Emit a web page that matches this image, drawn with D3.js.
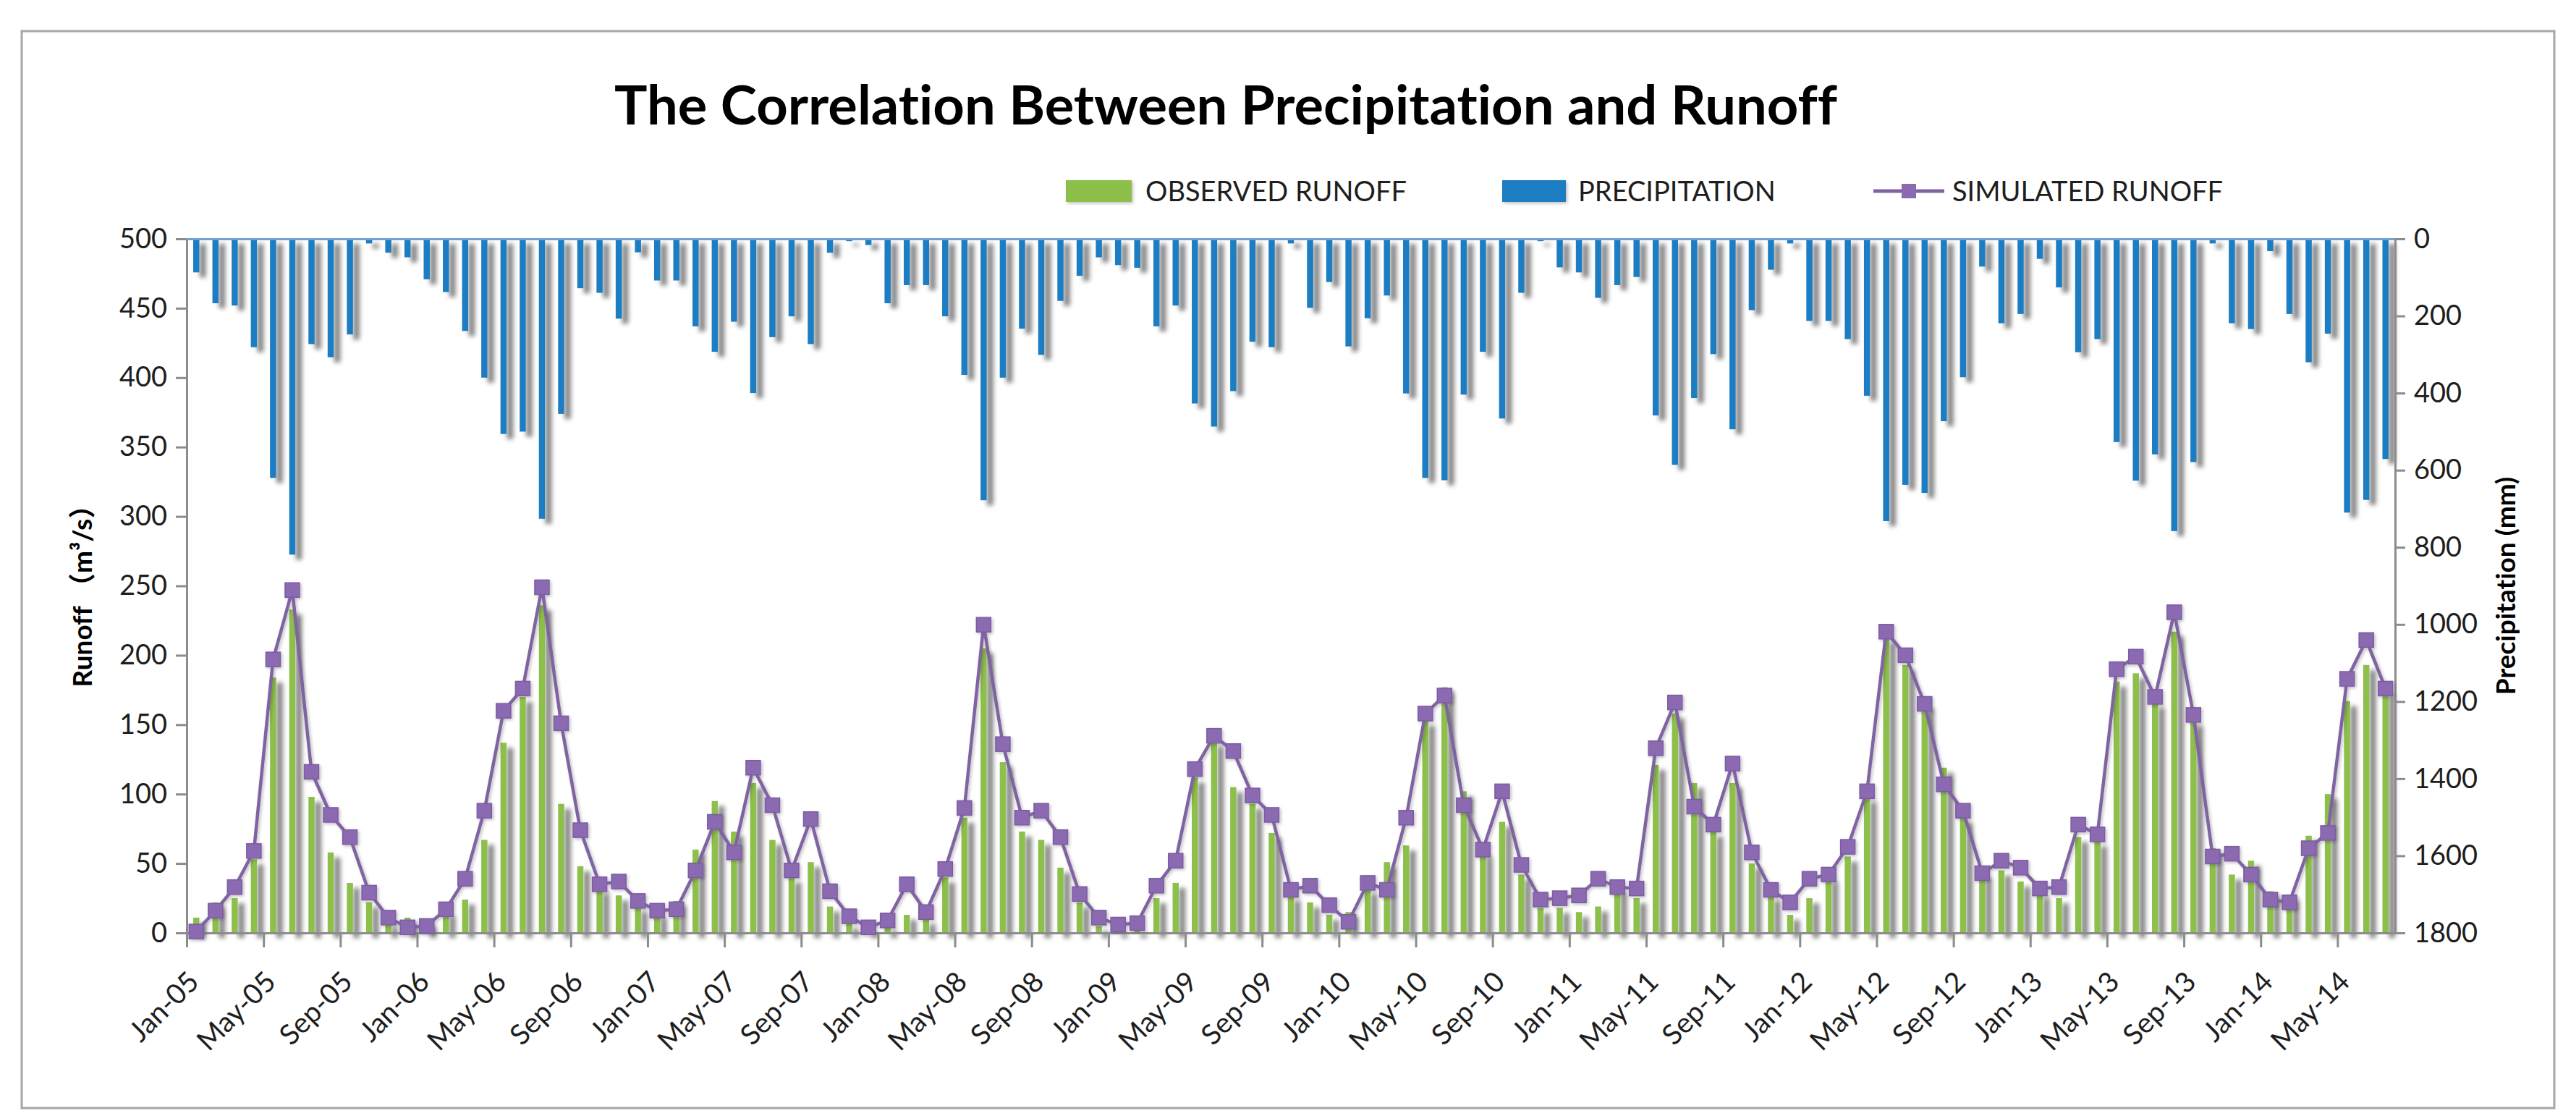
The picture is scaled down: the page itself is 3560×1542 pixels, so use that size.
<!DOCTYPE html>
<html>
<head>
<meta charset="utf-8">
<script src="https://cdn.jsdelivr.net/npm/d3@7"></script>
<style>
  html, body { margin: 0; padding: 0; background: #ffffff; }
  svg { display: block; }
  text { font-variant-ligatures: none; }
</style>
</head>
<body>
<svg id="chart" width="3560" height="1542"></svg>
<script>
// ---------------- DATA ----------------
const categories = [
  "Jan-05","Feb-05","Mar-05","Apr-05","May-05","Jun-05","Jul-05","Aug-05","Sep-05","Oct-05","Nov-05","Dec-05",
  "Jan-06","Feb-06","Mar-06","Apr-06","May-06","Jun-06","Jul-06","Aug-06","Sep-06","Oct-06","Nov-06","Dec-06",
  "Jan-07","Feb-07","Mar-07","Apr-07","May-07","Jun-07","Jul-07","Aug-07","Sep-07","Oct-07","Nov-07","Dec-07",
  "Jan-08","Feb-08","Mar-08","Apr-08","May-08","Jun-08","Jul-08","Aug-08","Sep-08","Oct-08","Nov-08","Dec-08",
  "Jan-09","Feb-09","Mar-09","Apr-09","May-09","Jun-09","Jul-09","Aug-09","Sep-09","Oct-09","Nov-09","Dec-09",
  "Jan-10","Feb-10","Mar-10","Apr-10","May-10","Jun-10","Jul-10","Aug-10","Sep-10","Oct-10","Nov-10","Dec-10",
  "Jan-11","Feb-11","Mar-11","Apr-11","May-11","Jun-11","Jul-11","Aug-11","Sep-11","Oct-11","Nov-11","Dec-11",
  "Jan-12","Feb-12","Mar-12","Apr-12","May-12","Jun-12","Jul-12","Aug-12","Sep-12","Oct-12","Nov-12","Dec-12",
  "Jan-13","Feb-13","Mar-13","Apr-13","May-13","Jun-13","Jul-13","Aug-13","Sep-13","Oct-13","Nov-13","Dec-13",
  "Jan-14","Feb-14","Mar-14","Apr-14","May-14","Jun-14","Jul-14"
];

const tickLabels = [
  "Jan-05","May-05","Sep-05","Jan-06","May-06","Sep-06","Jan-07","May-07","Sep-07","Jan-08",
  "May-08","Sep-08","Jan-09","May-09","Sep-09","Jan-10","May-10","Sep-10","Jan-11","May-11",
  "Sep-11","Jan-12","May-12","Sep-12","Jan-13","May-13","Sep-13","Jan-14","May-14"
];

// Precipitation (mm), secondary axis (reversed)
const precipitation = [
  87,167,173,281,620,819,273,307,248,12,36,48,
  105,138,239,360,506,500,726,454,128,140,207,35,
  108,108,227,293,215,400,255,201,273,36,6,16,
  167,120,120,201,353,678,360,233,301,161,96,48,
  68,75,227,173,427,487,395,267,281,12,179,112,
  279,206,147,401,620,626,404,293,466,140,6,74,
  87,153,120,99,458,586,413,299,494,185,80,12,
  213,213,260,407,732,638,659,473,359,72,219,195,
  52,126,294,260,527,627,559,758,579,12,219,234,
  32,195,320,246,710,677,571
];

// Observed runoff (m3/s)
const observedRunoff = [
  11,22,25,53,184,233,98,58,36,22,8,11,
  8,15,24,67,137,170,236,93,48,32,27,19,
  14,23,60,95,73,108,67,40,51,19,7,3,
  5,13,10,40,83,205,123,73,67,47,22,5,
  3,3,25,36,112,138,105,93,72,27,22,13,
  15,32,51,63,153,177,102,58,80,42,18,18,
  15,19,32,25,121,158,108,73,108,50,27,13,
  25,40,55,98,213,193,165,119,83,43,45,37,
  29,25,69,66,181,187,166,217,153,61,42,52,
  30,27,70,100,167,193,175
];

// Simulated runoff (m3/s)
const simulatedRunoff = [
  1,16,33,59,197,247,116,85,69,29,11,4,
  5,17,39,88,160,176,249,151,74,35,37,23,
  16,17,45,80,58,119,92,45,82,30,12,4,
  9,35,15,46,90,222,136,83,88,69,28,11,
  6,7,34,52,118,142,131,99,85,31,34,20,
  8,36,31,83,158,171,92,60,102,49,24,25,
  27,39,33,32,133,166,91,78,122,58,31,22,
  39,42,62,102,217,200,165,107,88,43,52,47,
  32,33,78,71,190,199,170,231,157,55,57,42,
  24,22,61,72,183,211,176
];

const runoffTicks = [0,50,100,150,200,250,300,350,400,450,500];
const precipTicks = [0,200,400,600,800,1000,1200,1400,1600,1800];

const titleText = "The Correlation Between Precipitation and Runoff";
const legendItems = ["OBSERVED RUNOFF", "PRECIPITATION", "SIMULATED RUNOFF"];

// ---------------- LAYOUT / STYLE ----------------
const W = 3560, H = 1542;
const plot = { left: 258, right: 3310, top: 330, bottom: 1289 };
const FONT = "Lato, 'Open Sans', 'DejaVu Sans', sans-serif";
const COL = {
  green: "#8DBF4C",
  blue: "#1C7DC3",
  purple: "#8064A2",
  marker: "#8B6AB2",
  axis: "#8C8C8C",
  text: "#1E1E1E"
};

const svg = d3.select("#chart");

// Shadow filter (Excel-like outer shadow)
const defs = svg.append("defs");
const f = defs.append("filter").attr("id", "shadow")
  .attr("filterUnits", "userSpaceOnUse")
  .attr("x", 0).attr("y", 0).attr("width", W).attr("height", H);
f.append("feGaussianBlur").attr("in", "SourceAlpha").attr("stdDeviation", 3.4).attr("result", "b");
f.append("feOffset").attr("in", "b").attr("dx", 9).attr("dy", 7).attr("result", "o");
f.append("feComponentTransfer").attr("in", "o").attr("result", "s")
  .append("feFuncA").attr("type", "linear").attr("slope", 0.5);
const fm = f.append("feMerge");
fm.append("feMergeNode").attr("in", "s");
fm.append("feMergeNode").attr("in", "SourceGraphic");

const f2 = defs.append("filter").attr("id", "softshadow")
  .attr("x", "-20%").attr("y", "-40%").attr("width", "140%").attr("height", "180%");
f2.append("feGaussianBlur").attr("in", "SourceAlpha").attr("stdDeviation", 2).attr("result", "b");
f2.append("feOffset").attr("in", "b").attr("dx", 2).attr("dy", 2).attr("result", "o");
f2.append("feComponentTransfer").attr("in", "o").attr("result", "s")
  .append("feFuncA").attr("type", "linear").attr("slope", 0.25);
const fm2 = f2.append("feMerge");
fm2.append("feMergeNode").attr("in", "s");
fm2.append("feMergeNode").attr("in", "SourceGraphic");

// Chart frame
svg.append("rect")
  .attr("x", 30).attr("y", 43).attr("width", 3500).attr("height", 1488)
  .attr("fill", "#ffffff").attr("stroke", "#A6A6A6").attr("stroke-width", 3);

// ---------------- SCALES ----------------
const x = d3.scaleBand().domain(categories).range([plot.left, plot.right]).padding(0);
const xIndex = d3.scaleLinear().domain([0, categories.length]).range([plot.left, plot.right]);
const yL = d3.scaleLinear().domain([0, 500]).range([plot.bottom, plot.top]);
const yR = d3.scaleLinear().domain([0, 1800]).range([plot.top, plot.bottom]);
const barW = 8.5;
const cx = c => x(c) + x.bandwidth() / 2;

// ---------------- BARS ----------------
const gGreen = svg.append("g").attr("filter", "url(#shadow)");
gGreen.selectAll("rect").data(categories).join("rect")
  .attr("x", c => cx(c) - barW / 2)
  .attr("width", barW)
  .attr("y", (c, i) => yL(observedRunoff[i]))
  .attr("height", (c, i) => yL(0) - yL(observedRunoff[i]))
  .attr("fill", COL.green);

const gBlue = svg.append("g").attr("filter", "url(#shadow)");
gBlue.selectAll("rect").data(categories).join("rect")
  .attr("x", c => cx(c) - barW / 2)
  .attr("width", barW)
  .attr("y", yR(0))
  .attr("height", (c, i) => yR(precipitation[i]) - yR(0))
  .attr("fill", COL.blue);

// ---------------- AXES ----------------
function styleAxis(g) {
  g.selectAll(".domain").attr("stroke", COL.axis).attr("stroke-width", 3);
  g.selectAll(".tick line").attr("stroke", COL.axis).attr("stroke-width", 3);
  g.selectAll(".tick text").attr("font-family", FONT).attr("font-size", 38).attr("fill", COL.text);
}

// top line (secondary category axis at top)
svg.append("g")
  .attr("transform", `translate(0,${plot.top})`)
  .call(d3.axisTop(xIndex).tickValues([]).tickSizeOuter(0))
  .call(g => g.select(".domain").attr("stroke", "#6FA3D2").attr("stroke-width", 3));

// left axis
svg.append("g")
  .attr("transform", `translate(${plot.left},0)`)
  .call(d3.axisLeft(yL).tickValues(runoffTicks).tickSize(15).tickSizeOuter(0).tickPadding(12).tickFormat(d3.format("d")))
  .call(styleAxis);

// right axis
svg.append("g")
  .attr("transform", `translate(${plot.right},0)`)
  .call(d3.axisRight(yR).tickValues(precipTicks).tickSize(14).tickSizeOuter(0).tickPadding(12).tickFormat(d3.format("d")))
  .call(styleAxis);

// bottom axis (ticks between categories, every 4 months)
const tickIdx = tickLabels.map(t => categories.indexOf(t));
svg.append("g")
  .attr("transform", `translate(0,${plot.bottom})`)
  .call(d3.axisBottom(xIndex).tickValues(tickIdx).tickSize(20).tickSizeOuter(0).tickFormat(""))
  .call(styleAxis);

svg.append("g").selectAll("text").data(tickLabels).join("text")
  .attr("transform", t => `translate(${cx(t) + 6},${plot.bottom + 70}) rotate(-45)`)
  .attr("text-anchor", "end")
  .attr("font-family", FONT).attr("font-size", 39).attr("fill", COL.text)
  .text(t => t);

// ---------------- SIMULATED LINE ----------------
const line = d3.line()
  .x((d, i) => cx(categories[i]))
  .y(d => yL(d));

const gLine = svg.append("g").attr("filter", "url(#softshadow)");
gLine.append("path")
  .datum(simulatedRunoff)
  .attr("d", line)
  .attr("fill", "none")
  .attr("stroke", COL.purple)
  .attr("stroke-width", 4.5)
  .attr("stroke-linejoin", "round");

const mS = 20;
gLine.selectAll("rect.m").data(simulatedRunoff).join("rect")
  .attr("class", "m")
  .attr("x", (d, i) => cx(categories[i]) - mS / 2)
  .attr("y", d => yL(d) - mS / 2)
  .attr("width", mS).attr("height", mS)
  .attr("fill", COL.marker)
  .attr("stroke", "#7B5CA3").attr("stroke-width", 1.5);

// ---------------- TITLES ----------------
svg.append("text")
  .attr("x", 849).attr("y", 172)
  .attr("font-family", FONT).attr("font-weight", 700).attr("font-size", 74)
  .attr("fill", "#000000")
  .attr("textLength", 1690).attr("lengthAdjust", "spacingAndGlyphs")
  .text(titleText);

svg.append("text")
  .attr("transform", `translate(127,${(plot.top + plot.bottom) / 2 + 5}) rotate(-90)`)
  .attr("text-anchor", "middle")
  .attr("font-family", FONT + ", 'Noto Sans CJK SC'").attr("font-weight", 700).attr("font-size", 37)
  .attr("fill", "#000000")
  .text("Runoff （m³/s）");

svg.append("text")
  .attr("transform", `translate(3476,${(plot.top + plot.bottom) / 2}) rotate(-90)`)
  .attr("text-anchor", "middle")
  .attr("font-family", FONT).attr("font-weight", 700).attr("font-size", 37)
  .attr("fill", "#000000")
  .text("Precipitation (mm)");

// ---------------- LEGEND ----------------
const lg = svg.append("g");
const legendY = 264;
const keyX = [1473, 2076, 2589];
const textX = [1583, 2181, 2698];
lg.append("rect").attr("x", keyX[0]).attr("y", legendY - 15).attr("width", 91).attr("height", 30)
  .attr("fill", COL.green).attr("filter", "url(#softshadow)");
lg.append("rect").attr("x", keyX[1]).attr("y", legendY - 15).attr("width", 88).attr("height", 30)
  .attr("fill", COL.blue).attr("filter", "url(#softshadow)");
lg.append("line").attr("x1", keyX[2]).attr("x2", keyX[2] + 98).attr("y1", legendY).attr("y2", legendY)
  .attr("stroke", COL.purple).attr("stroke-width", 5);
lg.append("rect").attr("x", keyX[2] + 49 - mS / 2).attr("y", legendY - mS / 2)
  .attr("width", mS).attr("height", mS).attr("fill", COL.marker);
lg.selectAll("text").data(legendItems).join("text")
  .attr("x", (d, i) => textX[i]).attr("y", legendY + 14)
  .attr("font-family", FONT).attr("font-size", 38).attr("fill", COL.text)
  .text(d => d);
</script>
</body>
</html>
